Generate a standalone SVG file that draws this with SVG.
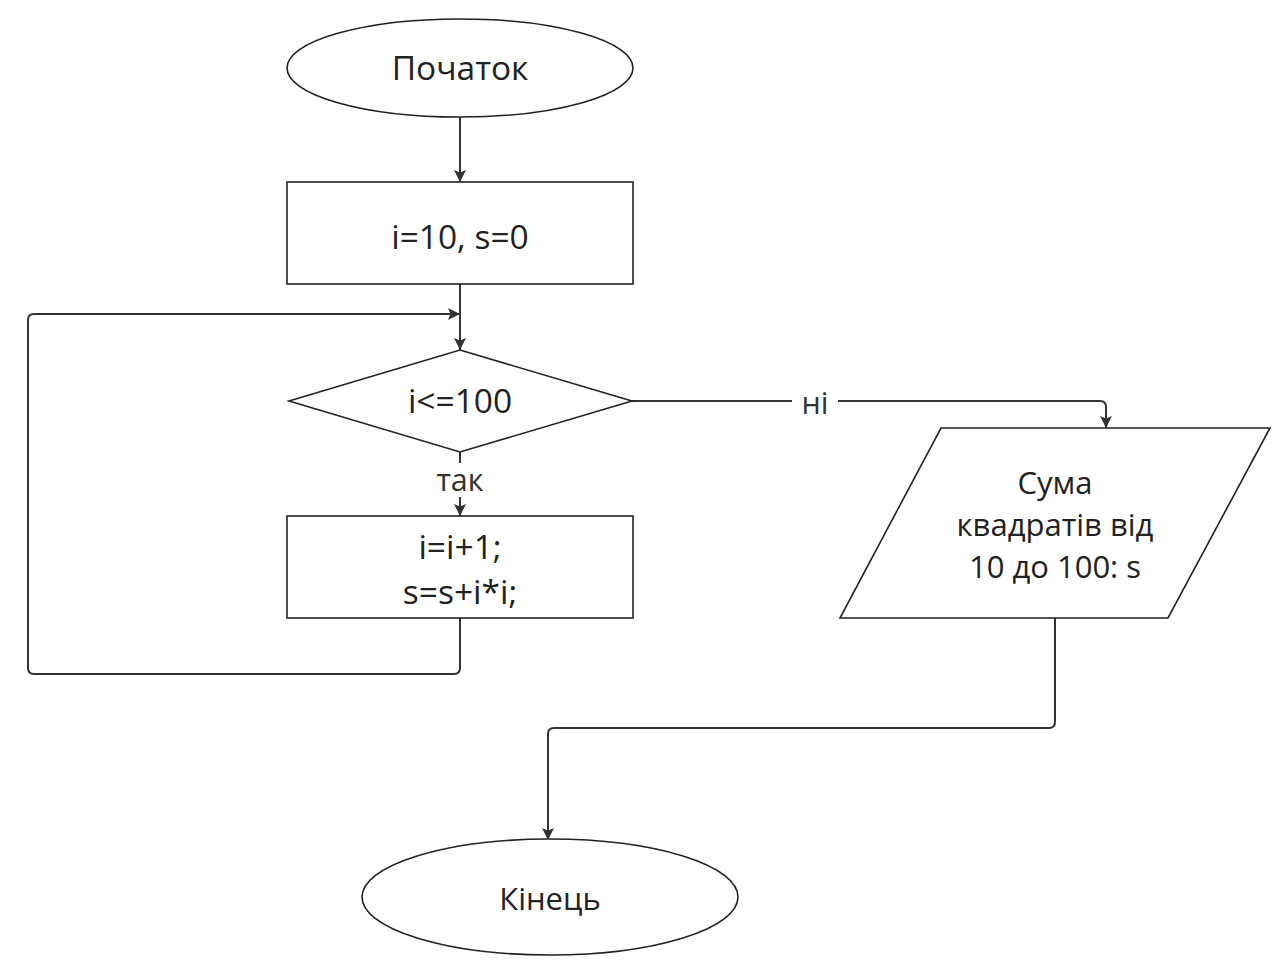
<svg xmlns="http://www.w3.org/2000/svg" width="1284" height="968" viewBox="0 0 1284 968">
<style>
.shape{fill:#ffffff;stroke:#222222;stroke-width:1.6}
.t{font-family:"Open Sans","Noto Sans","Liberation Sans",sans-serif;font-size:33.5px;fill:#222222;text-anchor:middle;dominant-baseline:central}
.s{font-size:31px}
.lbl{font-family:"Open Sans","Noto Sans","Liberation Sans",sans-serif;font-size:30.5px;fill:#333333;text-anchor:middle;dominant-baseline:central}
.c{fill:none;stroke:#333333;stroke-width:2}
</style>
<defs>
<marker id="arr" viewBox="0 0 12 12" refX="12" refY="6" markerWidth="12" markerHeight="12" markerUnits="userSpaceOnUse" orient="auto">
<path d="M0,0 L12,6 L0,12 L2.5,6 Z" fill="#333333"/>
</marker>
</defs>
<rect width="1284" height="968" fill="#ffffff"/>
<g id="connectors">
<path class="c" d="M460,117 V182" marker-end="url(#arr)"/>
<path class="c" d="M460,284 V350" marker-end="url(#arr)"/>
<path class="c" d="M460,452 V463"/>
<path class="c" d="M460,497 V516" marker-end="url(#arr)"/>
<path class="c" d="M460,618 V668 Q460,674 454,674 H34 Q28,674 28,668 V320 Q28,314 34,314 H460" marker-end="url(#arr)"/>
<path class="c" d="M632,401 H792 M838,401 H1100 Q1106,401 1106,407 V428" marker-end="url(#arr)"/>
<path class="c" d="M1055,618 V722 Q1055,728 1049,728 H554 Q548,728 548,734 V840" marker-end="url(#arr)"/>
<text class="lbl" x="460" y="479">так</text>
<text class="lbl" x="815" y="402">ні</text>
</g>
<g id="start">
<ellipse class="shape" cx="460" cy="68" rx="173" ry="49"/>
<text class="t" x="460" y="67">Початок</text>
</g>
<g id="init">
<rect class="shape" x="287" y="182" width="346" height="102"/>
<text class="t" x="460" y="236">i=10, s=0</text>
</g>
<g id="cond">
<polygon class="shape" points="460,350 632,401 460,452 289,401"/>
<text class="t" x="460" y="400">i&lt;=100</text>
</g>
<g id="body">
<rect class="shape" x="287" y="516" width="346" height="102"/>
<text class="t" x="460" y="546">i=i+1;</text>
<text class="t" x="460" y="591">s=s+i*i;</text>
</g>
<g id="output">
<polygon class="shape" points="941,428 1270,428 1168,618 840,618"/>
<text class="t s" x="1055" y="482">Сума</text>
<text class="t s" x="1055" y="524">квадратів від</text>
<text class="t s" x="1055" y="566">10 до 100: s</text>
</g>
<g id="end">
<ellipse class="shape" cx="550" cy="897" rx="188" ry="58"/>
<text class="t s" x="550" y="898">Кінець</text>
</g>
</svg>
